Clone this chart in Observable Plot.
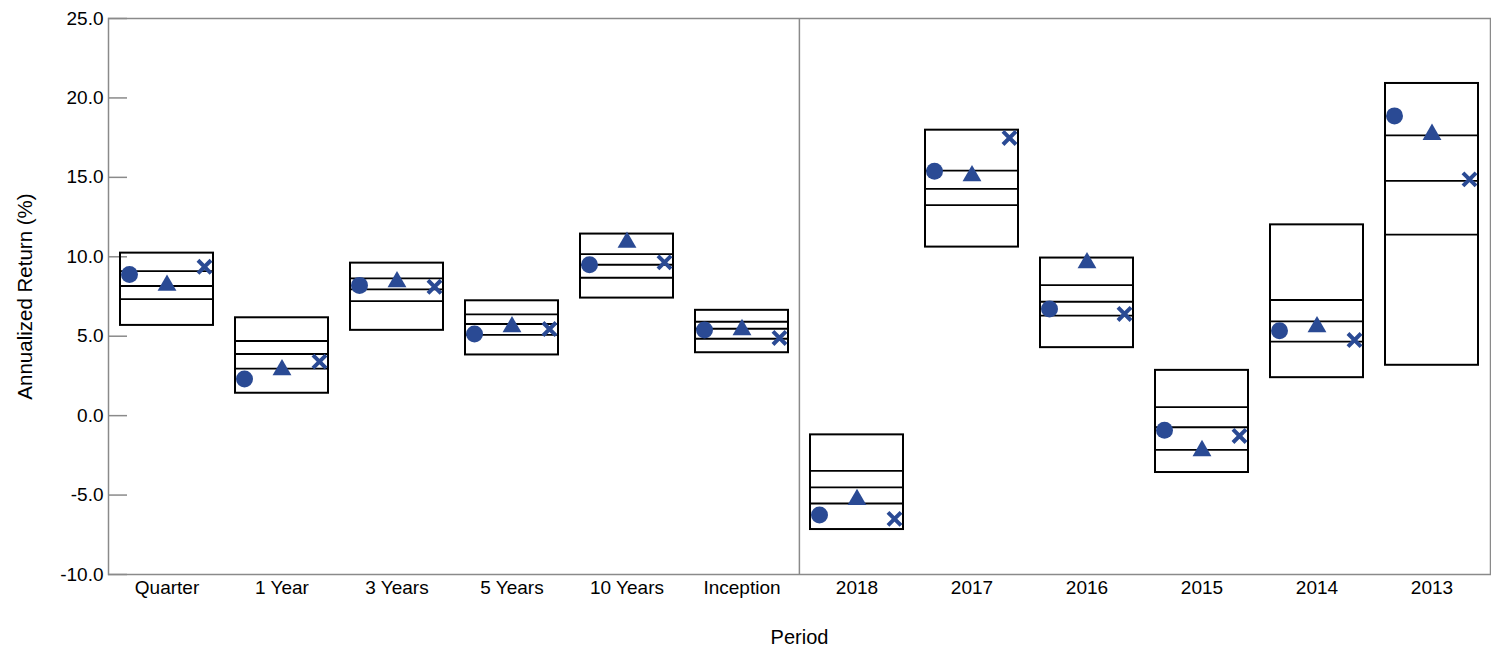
<!DOCTYPE html>
<html>
<head>
<meta charset="utf-8">
<script src="https://cdn.jsdelivr.net/npm/d3@7"></script>
<script src="https://cdn.jsdelivr.net/npm/@observablehq/plot@0.6"></script>
<style>
  html, body { margin: 0; padding: 0; background: #fff; }
</style>
</head>
<body>
<div id="chart"></div>
<script>
const periods = ["Quarter", "1 Year", "3 Years", "5 Years", "10 Years", "Inception",
                 "2018", "2017", "2016", "2015", "2014", "2013"];
// percentile bands (5th, 25th, 50th, 75th, 95th)
const p95 = [10.23, 6.16, 9.60, 7.23, 11.43, 6.63, -1.21, 17.97, 9.92, 2.85, 12.01, 20.91];
const p75 = [9.10, 4.70, 8.64, 6.38, 10.17, 5.91, -3.48, 15.43, 8.22, 0.53, 7.28, 17.64];
const p50 = [8.16, 3.88, 7.95, 5.77, 9.50, 5.47, -4.51, 14.28, 7.17, -0.73, 5.94, 14.78];
const p25 = [7.34, 2.96, 7.21, 5.08, 8.68, 4.84, -5.53, 13.25, 6.29, -2.16, 4.66, 11.39];
const p5  = [5.68, 1.41, 5.37, 3.82, 7.40, 3.96, -7.17, 10.61, 4.28, -3.58, 2.39, 3.17];
// series markers
const circleSeries   = [8.89, 2.31, 8.20, 5.14, 9.50, 5.39, -6.25, 15.39, 6.71, -0.92, 5.35, 18.87];
const triangleSeries = [8.20, 2.88, 8.42, 5.59, 10.91, 5.41, -5.28, 15.09, 9.62, -2.21, 5.59, 17.70];
const crossSeries    = [9.37, 3.40, 8.11, 5.45, 9.65, 4.89, -6.50, 17.48, 6.40, -1.28, 4.76, 14.87];
const yTicks = [-10, -5, 0, 5, 10, 15, 20, 25];
const yLabel = "Annualized Return (%)";
const xLabel = "Period";

const boxes = periods.map((p, i) => ({period: p, lo: p5[i], hi: p95[i]}));
const lines = periods.flatMap((p, i) => [p25[i], p50[i], p75[i]].map(v => ({period: p, value: v})));
const circles = periods.map((p, i) => ({period: p, value: circleSeries[i]}));
const triangles = periods.map((p, i) => ({period: p, value: triangleSeries[i]}));
const crosses = periods.map((p, i) => ({period: p, value: crossSeries[i]}));

const blue = "#2a4a94";
const gray = "#8a8a8a";

const chart = Plot.plot({
  width: 1491,
  height: 651,
  marginTop: 18,
  marginRight: 1,
  marginBottom: 77,
  marginLeft: 108,
  style: {fontFamily: "'Liberation Sans', Arial, sans-serif", fontSize: "19px", color: "#000", background: "#fff"},
  x: {type: "band", domain: periods, paddingInner: 0.19, paddingOuter: 0.095},
  y: {domain: [-10, 25]},
  marks: [
    Plot.frame({stroke: gray, strokeWidth: 1.5}),
    Plot.ruleX(["2018"], {dx: -57.6, stroke: gray, strokeWidth: 1.5}),
    Plot.axisY({ticks: yTicks, tickSize: 19, dx: 19, stroke: gray, strokeWidth: 1.5, text: null, label: null}),
    Plot.axisY({ticks: yTicks, tickSize: 0, tickPadding: 5, tickFormat: d => d.toFixed(1), label: null}),
    Plot.axisX({tickSize: 0, tickPadding: 6, label: null}),
    Plot.text([yLabel], {frameAnchor: "left", textAnchor: "middle", lineAnchor: "middle", rotate: -90, dx: -83, fontSize: 20.5, fill: "#000"}),
    Plot.text([xLabel], {frameAnchor: "bottom", textAnchor: "middle", lineAnchor: "middle", dy: 63, fontSize: 20, fill: "#000"}),
    Plot.barY(boxes, {x: "period", y1: "lo", y2: "hi", fill: "none", stroke: "#000", strokeWidth: 2}),
    Plot.tickY(lines, {x: "period", y: "value", stroke: "#000", strokeWidth: 1.8}),
    Plot.dot(circles, {x: "period", y: "value", dx: -37.5, r: 8.5, fill: blue, stroke: "none", symbol: "circle"}),
    Plot.dot(triangles, {x: "period", y: "value", r: 7, fill: blue, stroke: "none", symbol: "triangle"}),
    Plot.dot(crosses, {x: "period", y: "value", dx: 37.5, r: 6, stroke: blue, strokeWidth: 4, fill: "none", symbol: "times"})
  ]
});
document.getElementById("chart").appendChild(chart);
</script>
</body>
</html>
